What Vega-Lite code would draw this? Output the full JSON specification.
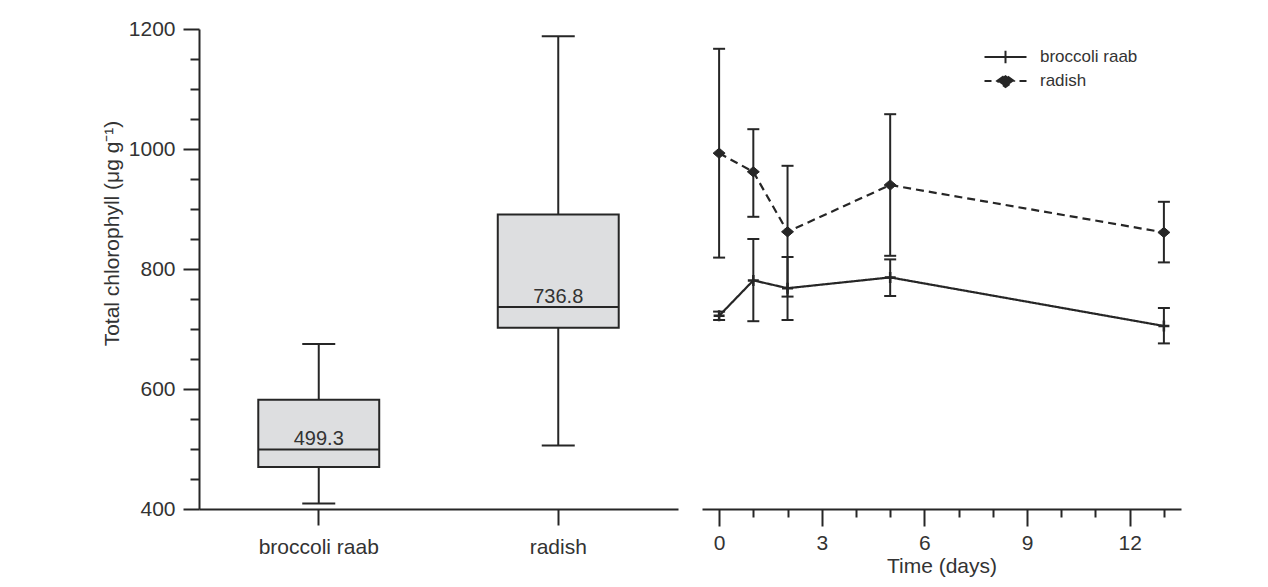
{
  "$schema": "https://vega.github.io/schema/vega-lite/v6.json",
  "background": "white",
  "padding": {"left": 101, "top": 18, "right": 5, "bottom": 5},
  "spacing": 24,
  "config": {
    "view": {"stroke": null},
    "font": "Liberation Sans",
    "axis": {
      "domainColor": "#262626", "domainWidth": 2,
      "tickColor": "#262626", "tickWidth": 2,
      "labelColor": "#333333", "labelFontSize": 21, "labelFont": "Liberation Sans",
      "titleColor": "#333333", "titleFontSize": 21, "titleFont": "Liberation Sans", "titleFontWeight": "normal",
      "grid": false, "labelOverlap": false, "labelFlush": false
    },
    "axisY": {
      "title": "Total chlorophyll (μg g⁻¹)",
      "values": [400, 500, 600, 700, 800, 900, 1000, 1100, 1200],
      "labelExpr": "datum.value % 200 === 0 ? datum.label : ''",
      "format": "d",
      "tickSize": {"condition": {"test": "datum.value % 200 === 0", "value": 16}, "value": 9},
      "labelPadding": 8,
      "titlePadding": 6,
      "titleY": 204
    }
  },
  "datasets": {
    "box": [
      {"crop": "broccoli raab", "lower": 409, "q1": 470, "median": 499.3, "q3": 582, "upper": 675},
      {"crop": "radish", "lower": 506, "q1": 702, "median": 736.8, "q3": 891, "upper": 1188}
    ],
    "ts": [
      {"crop": "broccoli raab", "day": 0, "mean": 722, "lo": 715, "hi": 729},
      {"crop": "broccoli raab", "day": 1, "mean": 781, "lo": 713, "hi": 850},
      {"crop": "broccoli raab", "day": 2, "mean": 768, "lo": 715, "hi": 820},
      {"crop": "broccoli raab", "day": 5, "mean": 786, "lo": 755, "hi": 816},
      {"crop": "broccoli raab", "day": 13, "mean": 705, "lo": 676, "hi": 735},
      {"crop": "radish", "day": 0, "mean": 993, "lo": 819, "hi": 1167},
      {"crop": "radish", "day": 1, "mean": 962, "lo": 887, "hi": 1033},
      {"crop": "radish", "day": 2, "mean": 862, "lo": 754, "hi": 972},
      {"crop": "radish", "day": 5, "mean": 940, "lo": 822, "hi": 1058},
      {"crop": "radish", "day": 13, "mean": 861, "lo": 811, "hi": 912}
    ]
  },
  "hconcat": [
    {
      "width": 479,
      "height": 480,
      "data": {"name": "box"},
      "encoding": {
        "x": {
          "field": "crop", "type": "nominal", "sort": null,
          "scale": {"paddingInner": 0, "paddingOuter": 0},
          "axis": {"title": null, "labelAngle": 0, "tickSize": 16, "labelPadding": 11}
        }
      },
      "layer": [
        {
          "mark": {"type": "rule", "color": "#262626", "strokeWidth": 2},
          "encoding": {
            "y": {"field": "lower", "type": "quantitative", "title": "Total chlorophyll (μg g⁻¹)", "scale": {"domain": [400, 1200], "nice": false, "zero": false}},
            "y2": {"field": "q1"}
          }
        },
        {
          "mark": {"type": "rule", "color": "#262626", "strokeWidth": 2},
          "encoding": {
            "y": {"field": "q3", "type": "quantitative", "title": "Total chlorophyll (μg g⁻¹)", "scale": {"domain": [400, 1200], "nice": false, "zero": false}},
            "y2": {"field": "upper"}
          }
        },
        {
          "mark": {"type": "bar", "fill": "#dddee0", "stroke": "#262626", "strokeWidth": 2, "width": {"band": 0.505}},
          "encoding": {
            "y": {"field": "q1", "type": "quantitative", "title": "Total chlorophyll (μg g⁻¹)", "scale": {"domain": [400, 1200], "nice": false, "zero": false}},
            "y2": {"field": "q3"}
          }
        },
        {
          "mark": {"type": "tick", "color": "#262626", "size": 121, "thickness": 2, "orient": "horizontal", "opacity": 1},
          "encoding": {
            "y": {"field": "median", "type": "quantitative", "title": "Total chlorophyll (μg g⁻¹)", "scale": {"domain": [400, 1200], "nice": false, "zero": false}}
          }
        },
        {
          "mark": {"type": "tick", "color": "#262626", "size": 33, "thickness": 2, "orient": "horizontal", "opacity": 1},
          "encoding": {
            "y": {"field": "lower", "type": "quantitative", "title": "Total chlorophyll (μg g⁻¹)", "scale": {"domain": [400, 1200], "nice": false, "zero": false}}
          }
        },
        {
          "mark": {"type": "tick", "color": "#262626", "size": 33, "thickness": 2, "orient": "horizontal", "opacity": 1},
          "encoding": {
            "y": {"field": "upper", "type": "quantitative", "title": "Total chlorophyll (μg g⁻¹)", "scale": {"domain": [400, 1200], "nice": false, "zero": false}}
          }
        },
        {
          "mark": {"type": "text", "fontSize": 20, "color": "#333333", "baseline": "alphabetic", "dy": -4, "font": "Liberation Sans"},
          "encoding": {
            "y": {"field": "median", "type": "quantitative", "title": "Total chlorophyll (μg g⁻¹)", "scale": {"domain": [400, 1200], "nice": false, "zero": false}},
            "text": {"field": "median", "type": "quantitative", "format": ".1f"}
          }
        }
      ]
    },
    {
      "width": 479,
      "height": 480,
      "data": {"name": "ts"},
      "encoding": {
        "x": {
          "field": "day", "type": "quantitative",
          "scale": {"domain": [-0.5, 13.5], "nice": false, "zero": false},
          "axis": {
            "title": "Time (days)",
            "values": [0, 1, 2, 3, 4, 5, 6, 7, 8, 9, 10, 11, 12, 13],
            "labelExpr": "datum.value % 3 === 0 ? datum.label : ''",
            "tickSize": {"condition": {"test": "datum.value % 3 === 0", "value": 17}, "value": 8},
            "labelPadding": 6.5,
            "titlePadding": 2
          }
        }
      },
      "layer": [
        {
          "mark": {"type": "rule", "color": "#262626", "strokeWidth": 2},
          "encoding": {
            "y": {"field": "lo", "type": "quantitative", "scale": {"domain": [400, 1200], "nice": false, "zero": false}, "axis": null},
            "y2": {"field": "hi"}
          }
        },
        {
          "mark": {"type": "tick", "color": "#262626", "size": 12, "thickness": 2, "orient": "horizontal", "opacity": 1},
          "encoding": {
            "y": {"field": "lo", "type": "quantitative", "scale": {"domain": [400, 1200], "nice": false, "zero": false}, "axis": null}
          }
        },
        {
          "mark": {"type": "tick", "color": "#262626", "size": 12, "thickness": 2, "orient": "horizontal", "opacity": 1},
          "encoding": {
            "y": {"field": "hi", "type": "quantitative", "scale": {"domain": [400, 1200], "nice": false, "zero": false}, "axis": null}
          }
        },
        {
          "mark": {"type": "line", "color": "#262626", "strokeWidth": 2.2},
          "encoding": {
            "y": {"field": "mean", "type": "quantitative", "scale": {"domain": [400, 1200], "nice": false, "zero": false}, "axis": null},
            "strokeDash": {
              "field": "crop", "type": "nominal",
              "scale": {"domain": ["broccoli raab", "radish"], "range": [[1, 0], [8, 5]]},
              "legend": {
                "orient": "none", "legendX": 798, "legendY": 19.5,
                "title": null, "padding": 0,
                "labelFontSize": 17, "labelColor": "#333333", "labelFont": "Liberation Sans",
                "symbolSize": 196, "labelOffset": 26, "rowPadding": 3,
                "symbolStrokeWidth": 2, "symbolStrokeColor": "#262626", "symbolFillColor": "#262626",
                "encode": {
                  "symbols": {
                    "update": {
                      "shape": {"signal": "datum.value === 'radish' ? 'M-3,0H-2M2,0H3M-1.2,0L0,-0.85L1.2,0L0,0.85Z' : 'M-3,0H3M0,-0.9V0.9'"},
                      "strokeDash": {"value": []},
                      "fill": {"value": "#262626"},
                      "stroke": {"value": "#262626"},
                      "strokeWidth": {"value": 2}
                    }
                  }
                }
              }
            }
          }
        },
        {
          "transform": [{"filter": "datum.crop === 'broccoli raab'"}],
          "mark": {"type": "point", "shape": "M-1,0H1M0,-1V1", "filled": true, "color": "#262626", "stroke": "#262626", "strokeWidth": 2.5, "opacity": 1, "size": 121},
          "encoding": {
            "y": {"field": "mean", "type": "quantitative", "scale": {"domain": [400, 1200], "nice": false, "zero": false}, "axis": null}
          }
        },
        {
          "transform": [{"filter": "datum.crop === 'radish'"}],
          "mark": {"type": "point", "shape": "M-1,0L0,-0.85L1,0L0,0.85Z", "filled": true, "color": "#262626", "stroke": "#262626", "strokeWidth": 1, "opacity": 1, "size": 144},
          "encoding": {
            "y": {"field": "mean", "type": "quantitative", "scale": {"domain": [400, 1200], "nice": false, "zero": false}, "axis": null}
          }
        }
      ]
    }
  ]
}
